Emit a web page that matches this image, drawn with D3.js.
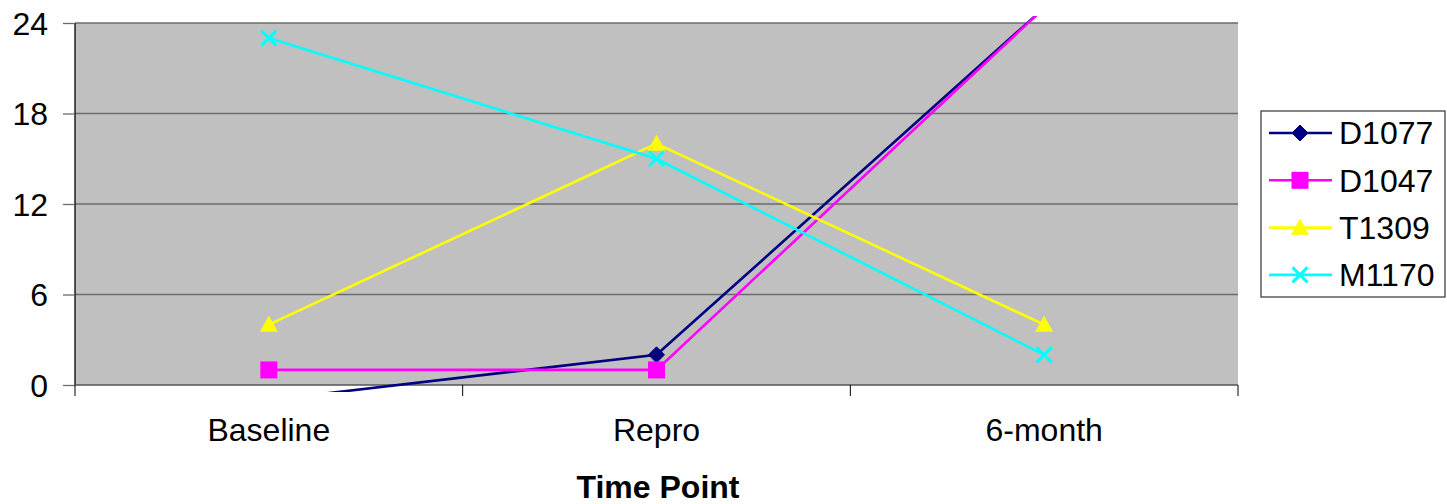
<!DOCTYPE html>
<html><head><meta charset="utf-8">
<script src="https://cdn.jsdelivr.net/npm/d3@7"></script>
<style>body{margin:0;background:#fff}svg{display:block}text{font-family:Arial,"Liberation Sans",sans-serif}</style>
</head><body>
<script>
const categories = ["Baseline", "Repro", "6-month"];
const seriesNames = ["D1077", "D1047", "T1309", "M1170"];
const D1077 = [-1, 2, 25];
const D1047 = [1, 1, 25];
const T1309 = [4, 16, 4];
const M1170 = [23, 15, 2];
const yTicks = [0, 6, 12, 18, 24];
const xTitle = "Time Point";

const values = [D1077, D1047, T1309, M1170];
const colors = ["#000080", "#FF00FF", "#FFFF00", "#00FFFF"];
const shapes = ["diamond", "square", "triangle", "x"];

const W = 1447, H = 504;
const L = 75, R = 1238, T = 23, B = 385;
const FS = 32;
const svg = d3.select("body").append("svg").attr("width", W).attr("height", H);

const x = d3.scaleBand().domain(categories).range([L, R]);
const y = d3.scaleLinear().domain([0, 24]).range([B, T]);

svg.append("rect").attr("x", L).attr("y", T).attr("width", R - L).attr("height", B - T).attr("fill", "#C0C0C0");

// gridlines
svg.append("g").selectAll("line").data(yTicks.filter(d => d > 0)).join("line")
  .attr("x1", L).attr("x2", R).attr("y1", d => y(d)).attr("y2", d => y(d))
  .attr("stroke", "#6b6b6b").attr("stroke-width", 1.3);

// y axis
const yAxis = d3.axisLeft(y).tickValues(yTicks).tickSize(12).tickPadding(15).tickFormat(d3.format("d"));
const gy = svg.append("g").attr("transform", `translate(${L},0)`).call(yAxis);
gy.select(".domain").attr("stroke", "#000").attr("stroke-width", 1.3).attr("d", `M0,${T}V${B}`);
gy.selectAll(".tick line").attr("stroke", "#6b6b6b").attr("stroke-width", 1.3);
gy.selectAll(".tick text").attr("font-size", FS).attr("fill", "#000").attr("font-family", "Arial,'Liberation Sans',sans-serif").attr("dy", "0.35em");

// x axis
const gx = svg.append("g").attr("transform", `translate(0,${B})`);
gx.append("line").attr("x1", L).attr("x2", R).attr("y1", 0).attr("y2", 0).attr("stroke", "#555").attr("stroke-width", 1.6);
const bounds = categories.map(c => x(c)).concat([x(categories[categories.length - 1]) + x.bandwidth()]);
gx.selectAll("line.tk").data(bounds).join("line").attr("class", "tk")
  .attr("x1", d => d).attr("x2", d => d).attr("y1", 0).attr("y2", 11).attr("stroke", "#000").attr("stroke-width", 1);
gx.selectAll("text").data(categories).join("text")
  .attr("x", d => x(d) + x.bandwidth() / 2).attr("y", 56).attr("text-anchor", "middle")
  .attr("font-size", FS).text(d => d);

svg.append("text").attr("x", 658).attr("y", 498).attr("text-anchor", "middle")
  .attr("font-size", FS).attr("font-weight", "bold").text(xTitle);

// clip
svg.append("defs").append("clipPath").attr("id", "clip").append("rect")
  .attr("x", L - 5).attr("y", T - 7).attr("width", R - L + 10).attr("height", B - T + 14);

const cx = c => x(c) + x.bandwidth() / 2;
const line = d3.line().x((d, i) => cx(categories[i])).y(d => y(d));

function marker(g, shape, color, px, py, s) {
  if (shape === "diamond") {
    g.append("path").attr("d", `M${px},${py - s}L${px + s},${py}L${px},${py + s}L${px - s},${py}Z`).attr("fill", color).attr("stroke", color);
  } else if (shape === "square") {
    g.append("rect").attr("x", px - s).attr("y", py - s).attr("width", 2 * s).attr("height", 2 * s).attr("fill", color);
  } else if (shape === "triangle") {
    g.append("path").attr("d", `M${px},${py - s}L${px + s},${py + s * 0.8}L${px - s},${py + s * 0.8}Z`).attr("fill", color);
  } else {
    g.append("path").attr("d", `M${px - s},${py - s}L${px + s},${py + s}M${px - s},${py + s}L${px + s},${py - s}`).attr("stroke", color).attr("stroke-width", 3);
  }
}
const sizes = [8, 8.5, 9, 7.5];

const gl = svg.append("g").attr("clip-path", "url(#clip)");
values.forEach((vals, si) => {
  gl.append("path").attr("d", line(vals)).attr("fill", "none").attr("stroke", colors[si]).attr("stroke-width", 2.6);
});
values.forEach((vals, si) => {
  vals.forEach((v, i) => {
    if (v >= 0 && v <= 24) marker(gl, shapes[si], colors[si], cx(categories[i]), y(v), sizes[si]);
  });
});

// legend
const lg = svg.append("g");
lg.append("rect").attr("x", 1261).attr("y", 111).attr("width", 184).attr("height", 186)
  .attr("fill", "#fff").attr("stroke", "#333").attr("stroke-width", 1.2);
seriesNames.forEach((n, i) => {
  const yy = 133 + i * 47.3;
  lg.append("line").attr("x1", 1269).attr("x2", 1332).attr("y1", yy).attr("y2", yy).attr("stroke", colors[i]).attr("stroke-width", 2.6);
  marker(lg, shapes[i], colors[i], 1300, yy, sizes[i]);
  lg.append("text").attr("x", 1339).attr("y", yy).attr("dy", "0.35em").attr("font-size", FS).text(n);
});
</script>
</body></html>
